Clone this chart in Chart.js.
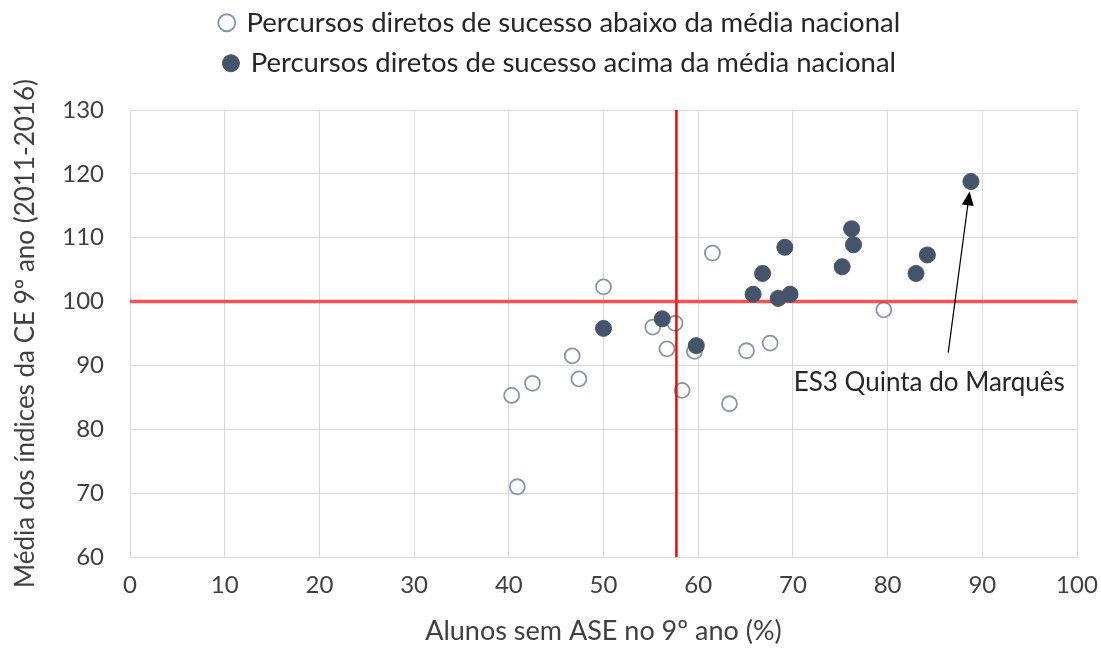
<!DOCTYPE html>
<html>
<head>
<meta charset="utf-8">
<script src="https://cdn.jsdelivr.net/npm/chart.js@4.4.0/dist/chart.umd.min.js"></script>
<style>
  html, body { margin: 0; padding: 0; background: #fff; }
  #wrap { width: 1101px; height: 648px; }
</style>
</head>
<body>
<div id="wrap"><canvas id="myChart"></canvas></div>
<script>
// series: [x = % alunos sem ASE, y = média índices CE]
const abaixoX = [50.0, 55.2, 57.55, 56.7, 59.6, 46.7, 47.4, 42.5, 40.3, 58.3, 63.3, 40.9, 61.5, 65.1, 67.6, 79.6];
const abaixoY = [102.3, 96.0, 96.6, 92.6, 92.2, 91.5, 87.9, 87.2, 85.3, 86.1, 84.0, 71.0, 107.6, 92.3, 93.5, 98.7];
const acimaX = [50.0, 56.2, 59.8, 65.8, 66.8, 69.15, 68.45, 69.7, 75.2, 76.4, 76.2, 83.0, 84.2, 88.8];
const acimaY = [95.8, 97.3, 93.1, 101.15, 104.4, 108.5, 100.5, 101.15, 105.45, 108.9, 111.4, 104.4, 107.3, 118.8];

const labelAbaixo = 'Percursos diretos de sucesso abaixo da média nacional';
const labelAcima = 'Percursos diretos de sucesso acima da média nacional';

// reference lines (national averages)
const mediaX = 57.7;
const mediaY = 100;
const xRange = [0, 100];
const yRange = [60, 130];

// annotation
const annotText = 'ES3 Quinta do Marquês';
const annotTextPos = [84.4, 87.3];
const annotArrowFrom = [86.4, 92.0];
const annotTarget = [88.8, 118.8];

const FONT = 'Lato, "Open Sans", sans-serif';

function pts(xs, ys) {
  return xs.map((x, i) => ({ x: x, y: ys[i] }));
}

const annotPlugin = {
  id: 'annot',
  afterLayout(chart) {
    // legend sits a bit right of centre in the original
    chart.legend.left += 22;
    chart.legend.right += 22;
  },
  afterDatasetsDraw(chart) {
    const c = chart.ctx;
    const xs = chart.scales.x, ys = chart.scales.y;
    const x0 = xs.getPixelForValue(annotArrowFrom[0]), y0 = ys.getPixelForValue(annotArrowFrom[1]);
    const tx = xs.getPixelForValue(annotTarget[0]), ty = ys.getPixelForValue(annotTarget[1]);
    // stop the arrow just under the marker
    const ang = Math.atan2(ty - y0, tx - x0);
    const x1 = tx - Math.cos(ang) * 10, y1 = ty - Math.sin(ang) * 10;
    c.save();
    c.strokeStyle = '#000';
    c.fillStyle = '#000';
    c.lineWidth = 1.2;
    c.beginPath();
    c.moveTo(x0, y0);
    c.lineTo(x1 - Math.cos(ang) * 10, y1 - Math.sin(ang) * 10);
    c.stroke();
    c.beginPath();
    c.moveTo(x1, y1);
    c.lineTo(x1 - Math.cos(ang) * 14 + Math.sin(ang) * 6, y1 - Math.sin(ang) * 14 - Math.cos(ang) * 6);
    c.lineTo(x1 - Math.cos(ang) * 14 - Math.sin(ang) * 6, y1 - Math.sin(ang) * 14 + Math.cos(ang) * 6);
    c.closePath();
    c.fill();
    c.font = '26px ' + FONT;
    c.fillStyle = '#262626';
    c.textAlign = 'center';
    c.textBaseline = 'middle';
    c.fillText(annotText, xs.getPixelForValue(annotTextPos[0]), ys.getPixelForValue(annotTextPos[1]));
    c.restore();
  }
};

const ctx = document.getElementById('myChart').getContext('2d');
const myChart = new Chart(ctx, {
  type: 'scatter',
  data: {
    datasets: [
      {
        label: labelAcima,
        data: pts(acimaX, acimaY),
        backgroundColor: '#44546A',
        borderColor: '#44546A',
        borderWidth: 1,
        pointRadius: 8,
        pointHoverRadius: 8
      },
      {
        label: 'mediaY',
        data: [{ x: xRange[0], y: mediaY }, { x: xRange[1], y: mediaY }],
        showLine: true,
        borderColor: 'rgba(255,40,40,0.8)',
        borderWidth: 3.5,
        pointRadius: 0
      },
      {
        label: 'mediaX',
        data: [{ x: mediaX, y: yRange[0] }, { x: mediaX, y: yRange[1] }],
        showLine: true,
        borderColor: '#FF0000',
        borderWidth: 2.5,
        pointRadius: 0
      },
      {
        label: labelAbaixo,
        data: pts(abaixoX, abaixoY),
        backgroundColor: '#FFFFFF',
        borderColor: '#8595AC',
        borderWidth: 1.8,
        pointRadius: 7.5,
        pointHoverRadius: 7.5
      }
    ]
  },
  options: {
    responsive: true,
    maintainAspectRatio: false,
    animation: false,
    layout: { padding: { left: 0, right: 24, top: -4, bottom: 0 } },
    plugins: {
      tooltip: { enabled: false },
      legend: {
        position: 'top',
        labels: {
          usePointStyle: true,
          pointStyle: 'circle',
          boxWidth: 12,
          boxHeight: 12,
          padding: 13,
          color: '#262626',
          font: { family: FONT, size: 27.5 },
          filter: (item) => item.text !== 'mediaX' && item.text !== 'mediaY',
          sort: (a, b) => b.datasetIndex - a.datasetIndex
        }
      }
    },
    scales: {
      // empty spacer between legend and plot area
      gap: {
        type: 'linear',
        position: 'top',
        display: true,
        afterFit: (scale) => { scale.height = 23; },
        ticks: { display: false },
        grid: { display: false, drawTicks: false },
        border: { display: false }
      },
      x: {
        type: 'linear',
        min: xRange[0],
        max: xRange[1],
        afterFit: (scale) => {
          scale.height = 91;
          scale.paddingLeft = 0;
          scale.paddingRight = 0;
        },
        ticks: { stepSize: 10, padding: 14, color: '#404040', font: { family: FONT, size: 24 } },
        grid: { color: '#D9D9D9', drawTicks: false },
        border: { color: '#D9D9D9' },
        title: {
          display: true,
          text: 'Alunos sem ASE no 9º ano (%)',
          color: '#404040',
          font: { family: FONT, size: 27 },
          padding: { top: 0, bottom: 1 }
        }
      },
      y: {
        type: 'linear',
        min: yRange[0],
        max: yRange[1],
        afterFit: (scale) => { scale.width = 130; },
        ticks: { stepSize: 10, padding: 26, color: '#404040', font: { family: FONT, size: 24 } },
        grid: { color: '#D9D9D9', drawTicks: false },
        border: { color: '#D9D9D9' },
        title: {
          display: true,
          text: 'Média dos índices da CE 9º ano (2011-2016)',
          color: '#404040',
          font: { family: FONT, size: 26 },
          padding: { top: 10, bottom: 0 }
        }
      }
    }
  },
  plugins: [annotPlugin]
});
</script>
</body>
</html>
